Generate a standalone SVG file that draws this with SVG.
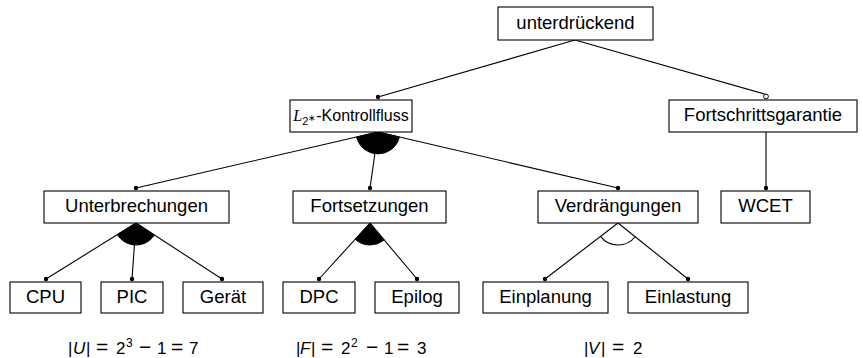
<svg xmlns="http://www.w3.org/2000/svg" width="863" height="358" viewBox="0 0 863 358">
  <defs>
    <style>
      .box { fill: #ffffff; stroke: #000000; stroke-width: 1.1; }
      .lbl { font-family: "Liberation Sans", Arial, sans-serif; font-size: 18.5px; fill: #000000; text-anchor: middle; }
      .lbl-small { font-size: 16px; }
      .edge { stroke: #000000; stroke-width: 1.1; fill: none; }
      .dot { fill: #000000; }
      .odot { fill: #ffffff; stroke: #000000; stroke-width: 1; }
      .fan { fill: #000000; stroke: #000000; stroke-width: 1; }
      .arc { fill: none; stroke: #000000; stroke-width: 1.1; }
      .math { font-family: "Liberation Sans", Arial, sans-serif; font-size: 17px; fill: #000000; }
      .op { font-size: 21px; }
      .sup { font-size: 12px; }
      .sub { font-size: 11px; }
      .star { font-size: 9px; }
      .mvar { font-family: "Liberation Serif", serif; font-style: italic; }
    </style>
  </defs>

  <rect width="863" height="358" fill="#ffffff"/>

  <!-- connectors -->
  <g id="connectors">
    <line class="edge" x1="575" y1="40" x2="378" y2="97"/>
    <line class="edge" x1="575" y1="40" x2="766" y2="94.5"/>
    <!-- L2*-Kontrollfluss children -->
    <line class="edge" x1="378" y1="132" x2="136" y2="188"/>
    <line class="edge" x1="378" y1="132" x2="370" y2="188"/>
    <line class="edge" x1="378" y1="132" x2="618" y2="188"/>
    <path class="fan" d="M378 132 L356.6 137 A22 22 0 0 0 399.4 137 Z"/>
    <!-- Fortschrittsgarantie child -->
    <line class="edge" x1="766" y1="132" x2="766" y2="188"/>
    <!-- Unterbrechungen children -->
    <line class="edge" x1="136" y1="223" x2="46" y2="279"/>
    <line class="edge" x1="136" y1="223" x2="132" y2="279"/>
    <line class="edge" x1="136" y1="223" x2="222" y2="279"/>
    <path class="fan" d="M136 223 L117.3 234.6 A22 22 0 0 0 154.4 235 Z"/>
    <!-- Fortsetzungen children -->
    <line class="edge" x1="370" y1="223" x2="319" y2="279"/>
    <line class="edge" x1="370" y1="223" x2="417" y2="279"/>
    <path class="fan" d="M370 223 L355.2 239.3 A22 22 0 0 0 384.1 239.9 Z"/>
    <!-- Verdrängungen children -->
    <line class="edge" x1="618" y1="223" x2="545" y2="279"/>
    <line class="edge" x1="618" y1="223" x2="688" y2="279"/>
    <path class="arc" d="M600.5 236.4 A22 22 0 0 0 635.2 236.75"/>
    <!-- end markers -->
    <circle class="dot" cx="378" cy="97" r="2.2"/>
    <circle class="odot" cx="766" cy="96.5" r="2.4"/>
    <circle class="dot" cx="136" cy="188" r="2.2"/>
    <circle class="dot" cx="370" cy="188" r="2.2"/>
    <circle class="dot" cx="618" cy="188" r="2.2"/>
    <circle class="dot" cx="766" cy="188" r="2.2"/>
    <circle class="dot" cx="46" cy="279" r="2.2"/>
    <circle class="dot" cx="132" cy="279" r="2.2"/>
    <circle class="dot" cx="222" cy="279" r="2.2"/>
    <circle class="dot" cx="319" cy="279" r="2.2"/>
    <circle class="dot" cx="417" cy="279" r="2.2"/>
    <circle class="dot" cx="545" cy="279" r="2.2"/>
    <circle class="dot" cx="688" cy="279" r="2.2"/>
  </g>

  <!-- level 1 -->
  <g id="unterdrueckend">
    <rect class="box" x="498" y="7" width="155" height="33"/>
    <text class="lbl" x="575.5" y="29">unterdrückend</text>
  </g>

  <!-- level 2 -->
  <g id="kontrollfluss">
    <rect class="box" x="290" y="100" width="122" height="32"/>
    <text class="lbl lbl-small" x="351" y="121"><tspan class="mvar">L</tspan><tspan class="sub" dy="3.5">2</tspan><tspan class="star" dy="-4">∗</tspan><tspan dy="0.5">-Kontrollfluss</tspan></text>
  </g>
  <g id="fortschrittsgarantie">
    <rect class="box" x="669" y="100" width="188" height="32"/>
    <text class="lbl" x="763" y="121">Fortschrittsgarantie</text>
  </g>

  <!-- level 3 -->
  <g id="unterbrechungen">
    <rect class="box" x="44" y="191" width="185" height="32"/>
    <text class="lbl" x="136.5" y="212">Unterbrechungen</text>
  </g>
  <g id="fortsetzungen">
    <rect class="box" x="293" y="191" width="153" height="32"/>
    <text class="lbl" x="369.5" y="212">Fortsetzungen</text>
  </g>
  <g id="verdraengungen">
    <rect class="box" x="538" y="191" width="160" height="32"/>
    <text class="lbl" x="618" y="212">Verdrängungen</text>
  </g>
  <g id="wcet">
    <rect class="box" x="721" y="191" width="89" height="32"/>
    <text class="lbl" x="765.5" y="212">WCET</text>
  </g>

  <!-- level 4 -->
  <g id="cpu">
    <rect class="box" x="10" y="282" width="71" height="31"/>
    <text class="lbl" x="45.5" y="303">CPU</text>
  </g>
  <g id="pic">
    <rect class="box" x="101" y="282" width="62" height="31"/>
    <text class="lbl" x="132" y="303">PIC</text>
  </g>
  <g id="geraet">
    <rect class="box" x="183" y="282" width="80" height="31"/>
    <text class="lbl" x="223" y="303">Gerät</text>
  </g>
  <g id="dpc">
    <rect class="box" x="283" y="282" width="72" height="31"/>
    <text class="lbl" x="319" y="303">DPC</text>
  </g>
  <g id="epilog">
    <rect class="box" x="375" y="282" width="84" height="31"/>
    <text class="lbl" x="417" y="303">Epilog</text>
  </g>
  <g id="einplanung">
    <rect class="box" x="483" y="282" width="125" height="31"/>
    <text class="lbl" x="545.5" y="303">Einplanung</text>
  </g>
  <g id="einlastung">
    <rect class="box" x="628" y="282" width="120" height="31"/>
    <text class="lbl" x="688" y="303">Einlastung</text>
  </g>

  <!-- group counts -->
  <g id="counts">
    <text class="math" y="354"><tspan x="68">|</tspan><tspan x="73" font-style="italic">U</tspan><tspan x="86">|</tspan><tspan x="96" class="op">=</tspan><tspan x="116">2</tspan><tspan x="126" dy="-7" class="sup">3</tspan><tspan x="139" dy="7" class="op">−</tspan><tspan x="157">1</tspan><tspan x="171" class="op">=</tspan><tspan x="189">7</tspan></text>
    <text class="math" y="354"><tspan x="296">|</tspan><tspan x="300" font-style="italic">F</tspan><tspan x="311">|</tspan><tspan x="321" class="op">=</tspan><tspan x="341">2</tspan><tspan x="351" dy="-7" class="sup">2</tspan><tspan x="366" dy="7" class="op">−</tspan><tspan x="384">1</tspan><tspan x="397" class="op">=</tspan><tspan x="417">3</tspan></text>
    <text class="math" y="354"><tspan x="584">|</tspan><tspan x="588" font-style="italic">V</tspan><tspan x="601">|</tspan><tspan x="612" class="op">=</tspan><tspan x="633">2</tspan></text>
  </g>
</svg>
